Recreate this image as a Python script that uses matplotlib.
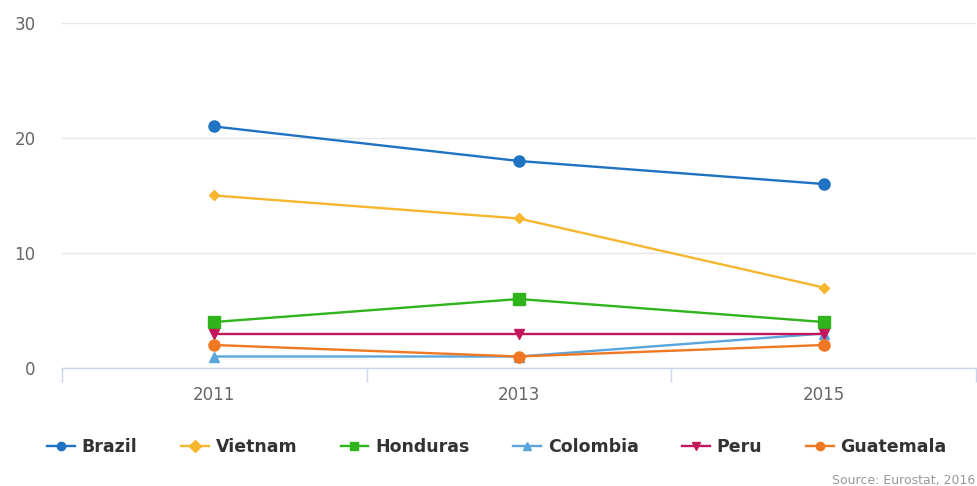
import matplotlib
matplotlib.use("Agg")
from matplotlib import pyplot as plt

years = ["2011", "2013", "2015"]
names = ["Brazil", "Vietnam", "Honduras", "Colombia", "Peru", "Guatemala"]
brazil = [21, 18, 16]
vietnam = [15, 13, 7]
honduras = [4, 6, 4]
colombia = [1, 1, 3]
peru = [3, 3, 3]
guatemala = [2, 1, 2]

series = [brazil, vietnam, honduras, colombia, peru, guatemala]
colors = ["#1f73c2", "#f6b72e", "#2fb41c", "#5aa6dc", "#c2185b", "#f07822"]
markers = ["o", "D", "s", "^", "v", "o"]
msizes = [8, 5, 8, 7, 7, 8]

fig = plt.figure(figsize=(9.78, 4.86), dpi=100)
ax = fig.add_axes([62 / 978, 118 / 486, 914 / 978, 345 / 486])

x = list(range(len(years)))
for name, vals, c, m, ms in zip(names, series, colors, markers, msizes):
    ax.plot(x, vals, color=c, marker=m, markersize=ms, linewidth=1.7,
            label=name, zorder=3, clip_on=False)

ax.set_xlim(-0.5, 2.5)
ax.set_ylim(0, 30)
ax.set_yticks([0, 10, 20, 30])
ax.yaxis.grid(True, color="#e6e6e6", linewidth=1)
ax.set_axisbelow(True)
for s in ["top", "right", "left"]:
    ax.spines[s].set_visible(False)
ax.spines["bottom"].set_color("#ccd6eb")
ax.spines["bottom"].set_linewidth(1)

# category boundaries get the tick marks, labels sit in between
ax.set_xticks([-0.5, 0.5, 1.5, 2.5])
ax.set_xticklabels([])
ax.set_xticks(x, minor=True)
ax.set_xticklabels(years, minor=True)
ax.tick_params(axis="x", which="major", length=10, color="#ccd6eb", width=1)
ax.tick_params(axis="x", which="minor", length=0, pad=13, labelsize=12, labelcolor="#666666")
ax.tick_params(axis="y", length=0, pad=19, labelsize=12, labelcolor="#666666")

leg = fig.legend(loc="center", bbox_to_anchor=(0.508, 1 - 447 / 486), ncol=6,
                 frameon=False, handlelength=1.6, columnspacing=2.5,
                 handletextpad=0.4, prop={"weight": "bold", "size": 12.5})
for t in leg.get_texts():
    t.set_color("#333333")
for h in leg.legend_handles:
    h.set_markersize(6)

fig.text(975 / 978, 1 - 480 / 486, "Source: Eurostat, 2016", ha="right", va="center",
         fontsize=9, color="#999999")

fig.savefig("out.png", dpi=100)
